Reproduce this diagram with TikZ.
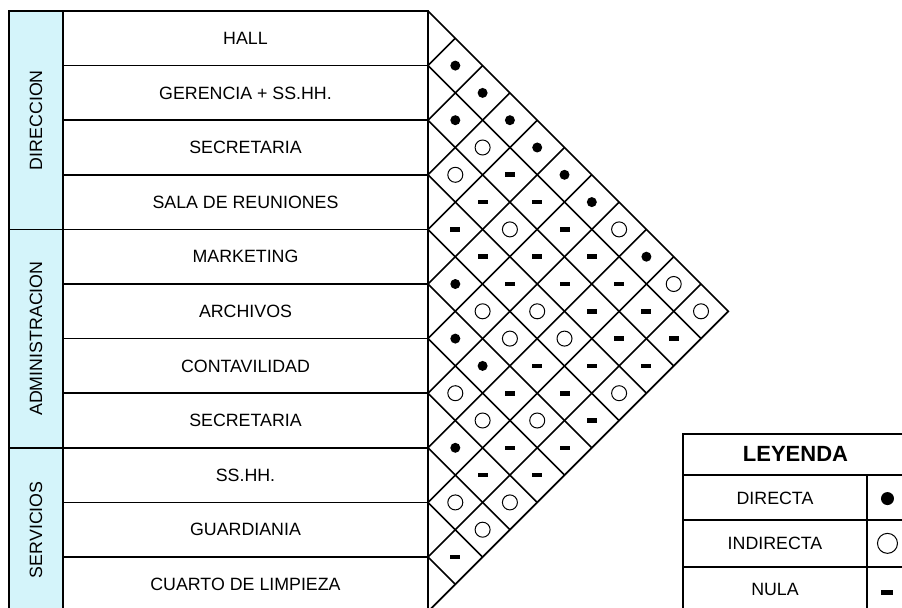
\documentclass[tikz,border=0pt]{standalone}
\usepackage{fontspec}
\setmainfont{Liberation Sans}
\usetikzlibrary{calc}

\definecolor{grupo}{RGB}{212,244,250}

\tikzset{
  directa/.style={circle, fill=black, inner sep=0pt, minimum size=5pt},
  indirecta/.style={circle, draw=black, line width=0.5pt, inner sep=0pt, minimum size=7.5pt},
  nula/.style={rectangle, fill=black, inner sep=0pt, minimum width=5pt, minimum height=2.3pt},
}

\begin{document}
\begin{tikzpicture}[x=27.3pt, y=27.3pt, line width=0.8pt, font=\fontsize{8.9}{10}\selectfont]
\def\n{11}
\def\xg{-7.674}
\def\xa{-6.685}
\useasboundingbox (-7.839,0.2015) rectangle (8.681,-10.916);

% Group column (rotated labels)
\foreach \ya/\yb/\nombre [count=\g] in {0/4/DIRECCION, 4/8/ADMINISTRACION, 8/11/SERVICIOS}{
  \draw[fill=grupo] (\xg,-\ya) rectangle (\xa,-\yb);
  \node[rotate=90] (grupo\g) at ({(\xg+\xa)/2},{-(\ya+\yb)/2}) {\nombre};
}

% Rooms
\foreach \nombre [count=\i] in {HALL, GERENCIA + SS.HH., SECRETARIA, SALA DE REUNIONES,
    MARKETING, ARCHIVOS, CONTAVILIDAD, SECRETARIA, SS.HH., GUARDIANIA, CUARTO DE LIMPIEZA}{
  \draw (\xa,-\i+1) rectangle (0,-\i);
  \node (amb\i) at ({\xa/2},-\i+0.5) {\nombre};
}

% Diamond grid of the matrix
\draw (0,0) -- (\n/2,-\n/2) -- (0,-\n);
\foreach \k in {1,...,10}{
  \draw (0,-\k) -- ++({(\n-\k)/2},{-(\n-\k)/2});
  \draw (0,-\k) -- ++(\k/2,\k/2);
}

% Relations, one list per row
\foreach \fila [count=\i] in {
    {directa,directa,directa,directa,directa,directa,indirecta,directa,indirecta,indirecta},
    {directa,indirecta,nula,nula,nula,nula,nula,nula,nula},
    {indirecta,nula,indirecta,nula,nula,nula,nula,nula},
    {nula,nula,nula,indirecta,indirecta,nula,indirecta},
    {directa,indirecta,indirecta,nula,nula,nula},
    {directa,directa,nula,indirecta,nula},
    {indirecta,indirecta,nula,nula},
    {directa,nula,indirecta},
    {indirecta,indirecta},
    {nula}}{
  \foreach \r [count=\dd] in \fila {
    \pgfmathtruncatemacro\j{\i+\dd}
    \node[\r] (rel-\i-\j) at ({\dd/2},{-(2*\i+\dd-1)/2}) {};
  }
}

% Legend
\draw (4.670,-7.747) rectangle (8.79,-11.007);
\draw (4.670,-8.498) -- (8.79,-8.498);
\draw (4.670,-9.322) -- (8.79,-9.322);
\draw (4.670,-10.183) -- (8.79,-10.183);
\draw (8.04,-8.498) -- (8.04,-11.007);
\node[font=\fontsize{11}{13}\selectfont\bfseries] (leyenda) at (6.73,-8.12) {LEYENDA};
\node (ley1) at (6.355,-8.93) {DIRECTA};
\node (ley2) at (6.355,-9.75) {INDIRECTA};
\node (ley3) at (6.355,-10.6) {NULA};
\node[directa, minimum size=6.5pt] (sim1) at (8.415,-8.93) {};
\node[indirecta, minimum size=10pt] (sim2) at (8.415,-9.75) {};
\node[nula, minimum width=6pt, minimum height=2.6pt] (sim3) at (8.415,-10.65) {};
\end{tikzpicture}
\end{document}
